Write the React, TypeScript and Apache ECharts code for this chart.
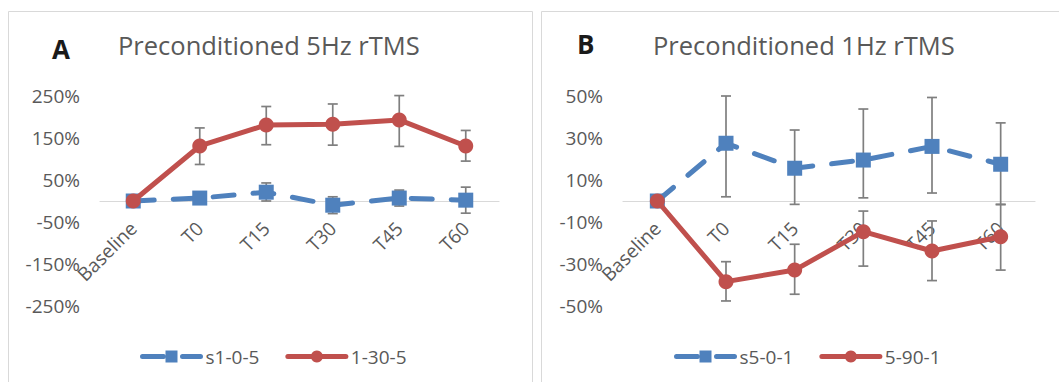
import React, { useEffect, useRef } from "react";
import * as echarts from "echarts";

const categories = ["Baseline", "T0", "T15", "T30", "T45", "T60"];

// Panel A
const aShamName = "s1-0-5";
const aSham = [0, 7, 21, -10, 7, 2];
const aShamErrPlus = [0, 5, 22, 20, 19, 31];
const aShamErrMinus = [0, 5, 21, 20, 19, 31];
const aActName = "1-30-5";
const aAct = [0, 131, 181, 183, 193, 131];
const aActErrPlus = [0, 43, 44, 48, 58, 37];
const aActErrMinus = [0, 44, 47, 50, 63, 36];

// Panel B
const bShamName = "s5-0-1";
const bSham = [0, 27.5, 15.6, 19.5, 26, 17.5];
const bShamErrPlus = [0, 22.5, 18.2, 24.3, 23.3, 19.7];
const bShamErrMinus = [0, 25.5, 17.2, 18, 22.2, 19.2];
const bActName = "5-90-1";
const bAct = [0, -38.4, -32.9, -14.6, -23.8, -17];
const bActErrPlus = [0, 9.5, 12.3, 9.8, 14.3, 15.4];
const bActErrMinus = [0, 9.2, 11.5, 16.4, 14.1, 15.9];

const aTicks = { min: -250, max: 250, interval: 100 };
const bTicks = { min: -50, max: 50, interval: 20 };

const BLUE = "#4F81BD";
const RED = "#C0504D";
const TXT = "#595959";
const FONT = "'Open Sans', 'Noto Sans', sans-serif";
const GRID_H = 210;

function errData(vals: number[], plus: number[], minus: number[]) {
  return vals
    .map((v, i) => [i, v, v - minus[i], v + plus[i]])
    .filter((d) => d[3] - d[2] > 0);
}

function errSeries(xi: number, data: number[][]) {
  return {
    type: "custom",
    xAxisIndex: xi,
    yAxisIndex: xi,
    z: 1,
    silent: true,
    data,
    renderItem: (params: any, api: any) => {
      const x = api.value(0);
      const lo = api.coord([x, api.value(2)]);
      const hi = api.coord([x, api.value(3)]);
      const cap = 5;
      const style = { stroke: "#7F7F7F", lineWidth: 1.7 };
      return {
        type: "group",
        children: [
          { type: "line", shape: { x1: hi[0], y1: hi[1], x2: lo[0], y2: lo[1] }, style },
          { type: "line", shape: { x1: hi[0] - cap, y1: hi[1], x2: hi[0] + cap, y2: hi[1] }, style },
          { type: "line", shape: { x1: lo[0] - cap, y1: lo[1], x2: lo[0] + cap, y2: lo[1] }, style },
        ],
      };
    },
  };
}

function shamSeries(name: string, xi: number, data: number[]) {
  return {
    name,
    type: "line",
    xAxisIndex: xi,
    yAxisIndex: xi,
    data,
    z: 3,
    symbol: "rect",
    symbolSize: 15,
    itemStyle: { color: BLUE },
    lineStyle: { color: BLUE, width: 5, type: [21, 19], cap: "round" },
  };
}

function actSeries(name: string, xi: number, data: number[]) {
  return {
    name,
    type: "line",
    xAxisIndex: xi,
    yAxisIndex: xi,
    data,
    z: 4,
    symbol: "circle",
    symbolSize: 15,
    itemStyle: { color: RED },
    lineStyle: { color: RED, width: 5, cap: "round" },
  };
}

function xAxis(gi: number) {
  return {
    type: "category",
    gridIndex: gi,
    position: "bottom",
    offset: -GRID_H / 2,
    data: categories,
    axisLine: { onZero: false, lineStyle: { color: "#D9D9D9", width: 1.2 } },
    axisTick: { show: false },
    axisLabel: { rotate: 45, margin: 24, color: TXT, fontSize: 19, fontFamily: FONT, interval: 0 },
    splitLine: { show: false },
  };
}

function yAxis(gi: number, t: { min: number; max: number; interval: number }) {
  return {
    type: "value",
    gridIndex: gi,
    min: t.min,
    max: t.max,
    interval: t.interval,
    axisLine: { show: false },
    axisTick: { show: false },
    splitLine: { show: false },
    axisLabel: { formatter: "{value}%", color: TXT, fontSize: 19, fontFamily: FONT, margin: 20 },
  };
}

function legend(left: number, names: string[]) {
  return {
    left,
    top: 342,
    data: names,
    itemWidth: 58,
    itemHeight: 15,
    itemGap: 26,
    lineStyle: { width: 5 },
    textStyle: { color: TXT, fontSize: 19, fontFamily: FONT },
  };
}

export default function App() {
  const ref = useRef<HTMLDivElement>(null);
  useEffect(() => {
    document.body.style.margin = "0";
    if (!ref.current) return;
    const chart = echarts.init(ref.current, null, { renderer: "svg" });
    chart.setOption({
      animation: false,
      backgroundColor: "#FFFFFF",
      grid: [
        { left: 100, top: 96, width: 399, height: GRID_H },
        { left: 623, top: 96, width: 412, height: GRID_H },
      ],
      xAxis: [xAxis(0), xAxis(1)],
      yAxis: [yAxis(0, aTicks), yAxis(1, bTicks)],
      legend: [legend(135, [aShamName, aActName]), legend(669, [bShamName, bActName])],
      graphic: [
        { type: "rect", shape: { x: 8.5, y: 11.5, width: 524, height: 420 }, style: { fill: "none", stroke: "#D9D9D9", lineWidth: 1 }, silent: true },
        { type: "rect", shape: { x: 541.5, y: 11.5, width: 560, height: 420 }, style: { fill: "none", stroke: "#D9D9D9", lineWidth: 1 }, silent: true },
        { type: "text", x: 52, y: 36, style: { text: "A", fill: "#1A1A1A", font: "bold 26px 'Open Sans', sans-serif" } },
        { type: "text", x: 118, y: 32, style: { text: "Preconditioned 5Hz rTMS", fill: TXT, font: "25.5px 'Open Sans', sans-serif" } },
        { type: "text", x: 577, y: 31, style: { text: "B", fill: "#1A1A1A", font: "bold 26px 'Open Sans', sans-serif" } },
        { type: "text", x: 653, y: 32, style: { text: "Preconditioned 1Hz rTMS", fill: TXT, font: "25.5px 'Open Sans', sans-serif" } },
      ],
      series: [
        errSeries(0, errData(aSham, aShamErrPlus, aShamErrMinus)),
        errSeries(0, errData(aAct, aActErrPlus, aActErrMinus)),
        shamSeries(aShamName, 0, aSham),
        actSeries(aActName, 0, aAct),
        errSeries(1, errData(bSham, bShamErrPlus, bShamErrMinus)),
        errSeries(1, errData(bAct, bActErrPlus, bActErrMinus)),
        shamSeries(bShamName, 1, bSham),
        actSeries(bActName, 1, bAct),
      ],
    });
    return () => chart.dispose();
  }, []);
  return <div ref={ref} style={{ width: 1059, height: 382 }} />;
}
